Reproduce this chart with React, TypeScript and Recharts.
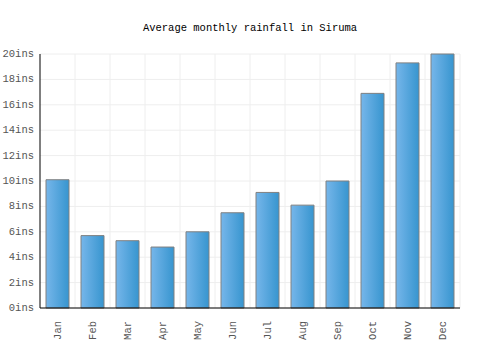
import { BarChart, Bar, XAxis, YAxis, CartesianGrid } from 'recharts';

const months = ['Jan', 'Feb', 'Mar', 'Apr', 'May', 'Jun', 'Jul', 'Aug', 'Sep', 'Oct', 'Nov', 'Dec'];
const rainfall = [10.1, 5.7, 5.3, 4.8, 6.0, 7.5, 9.1, 8.1, 10.0, 16.9, 19.3, 20.0];
const yTicks = [0, 2, 4, 6, 8, 10, 12, 14, 16, 18, 20];

const data = months.map((m, i) => ({ month: m, rain: rainfall[i] }));

const FONT = '"Liberation Mono", "DejaVu Sans Mono", monospace';

const MonthTick = ({ x, y, payload }: any) => (
  <text
    transform={`translate(${x},${y + 5}) rotate(-90)`}
    textAnchor="end"
    dominantBaseline="central"
    fontFamily={FONT}
    fontSize={10.5}
    fill="#555"
  >
    {payload.value}
  </text>
);

// tick x arrives already shifted left of the axis by tickSize + tickMargin
const RainTick = ({ x, y, payload }: any) => (
  <text
    x={x + 2}
    y={y}
    textAnchor="end"
    dominantBaseline="central"
    fontFamily={FONT}
    fontSize={10.5}
    fill="#555"
  >
    {`${payload.value}ins`}
  </text>
);

export default function App() {
  return (
    <div style={{ position: 'absolute', left: 0, top: 0, width: 500, height: 350, background: '#fff' }}>
      <div
        style={{
          position: 'absolute',
          top: 22,
          width: 500,
          textAlign: 'center',
          fontFamily: FONT,
          fontSize: 10.5,
          color: '#000',
        }}
      >
        Average monthly rainfall in Siruma
      </div>
      <BarChart
        width={500}
        height={350}
        data={data}
        margin={{ top: 54, right: 40, left: 0, bottom: 12 }}
        style={{ overflow: 'visible' }}
      >
        <defs>
          <linearGradient id="barFill" x1="0" y1="0" x2="1" y2="0">
            <stop offset="0%" stopColor="#76b6ea" />
            <stop offset="100%" stopColor="#3795cf" />
          </linearGradient>
        </defs>
        <CartesianGrid
          stroke="#eeeeee"
          strokeWidth={1}
          verticalCoordinatesGenerator={({ offset }: any) =>
            months.map((_, i) => offset.left + ((i + 1) * offset.width) / months.length)
          }
        />
        <XAxis
          dataKey="month"
          height={30}
          interval={0}
          tickLine={false}
          axisLine={{ stroke: '#000' }}
          tick={<MonthTick />}
        />
        <YAxis
          width={40}
          domain={[0, 20]}
          ticks={yTicks}
          interval={0}
          tickLine={false}
          axisLine={{ stroke: '#000' }}
          tick={<RainTick />}
        />
        <Bar
          dataKey="rain"
          fill="url(#barFill)"
          stroke="#808080"
          strokeWidth={1}
          barSize={23}
          isAnimationActive={false}
        />
      </BarChart>
    </div>
  );
}
